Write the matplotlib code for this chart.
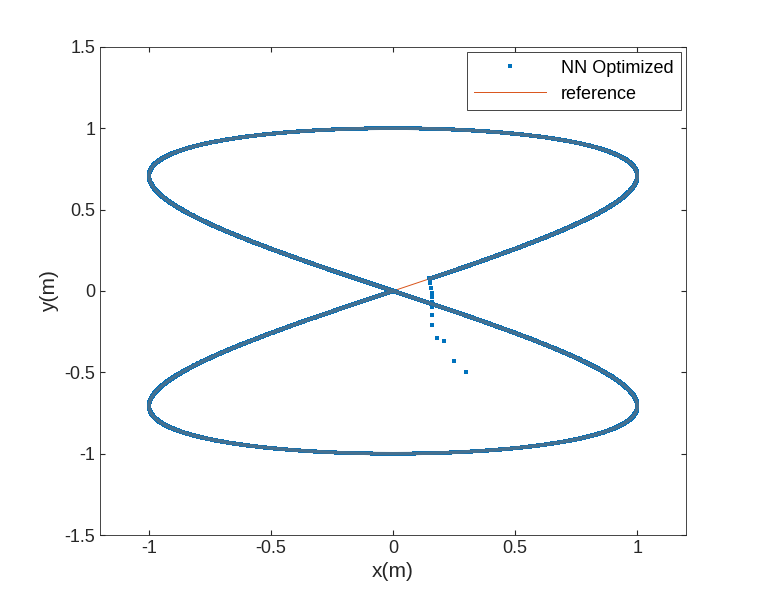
import numpy as np
import matplotlib.pyplot as plt

plt.rcParams['font.family'] = ['Liberation Sans', 'DejaVu Sans']

# reference figure-eight trajectory: x = sin(2t), y = sin(t)
t_ref = np.linspace(0, 2 * np.pi, 3000)
x_ref = np.sin(2 * t_ref)
y_ref = np.sin(t_ref)

# NN transient from initial state toward the trajectory
x_init = [0.30, 0.25, 0.21, 0.18, 0.16, 0.16, 0.16, 0.16, 0.16, 0.158, 0.155, 0.152, 0.15, 0.148]
y_init = [-0.50, -0.43, -0.31, -0.29, -0.21, -0.15, -0.10, -0.07, -0.04, -0.01, 0.02, 0.05, 0.07, 0.08]

# NN tracking along the trajectory after convergence (one lap)
t_nn = np.linspace(0.075, 2 * np.pi, 5000)
x_nn = np.concatenate([x_init, np.sin(2 * t_nn)])
y_nn = np.concatenate([y_init, np.sin(t_nn)])

fig = plt.figure(figsize=(7.59, 6.09), dpi=100)
ax = fig.add_axes([0.132, 0.1215, 0.772, 0.8015])
ax.plot(x_ref, y_ref, '-', color='#D95319', linewidth=0.7, label='reference', zorder=2)
ax.plot(x_nn, y_nn, 's', color='#0072BD', markersize=2.6, markeredgewidth=0,
        label='NN Optimized', zorder=3)
ax.plot(x_nn[14:], y_nn[14:], '-', color='#46708f', linewidth=2.4, zorder=3.5)

ax.set_xlim(-1.2, 1.2)
ax.set_ylim(-1.5, 1.5)
ax.set_xticks([-1, -0.5, 0, 0.5, 1])
ax.set_xticklabels(['-1', '-0.5', '0', '0.5', '1'])
ax.set_yticks([-1.5, -1, -0.5, 0, 0.5, 1, 1.5])
ax.set_yticklabels(['-1.5', '-1', '-0.5', '0', '0.5', '1', '1.5'])
ax.tick_params(direction='in', top=True, right=True, labelsize=13, colors='#262626')
ax.set_xlabel('x(m)', fontsize=15, color='#262626')
ax.set_ylabel('y(m)', fontsize=15, color='#262626')
for s in ax.spines.values():
    s.set_color('#262626')
    s.set_linewidth(0.6)

h, l = ax.get_legend_handles_labels()
leg = ax.legend(h[::-1], l[::-1], loc='upper right', fontsize=13, fancybox=False, framealpha=1,
                edgecolor='#262626', borderaxespad=0.3, handlelength=4, markerscale=1.2)
leg.get_frame().set_linewidth(0.6)

fig.savefig('out.png')
